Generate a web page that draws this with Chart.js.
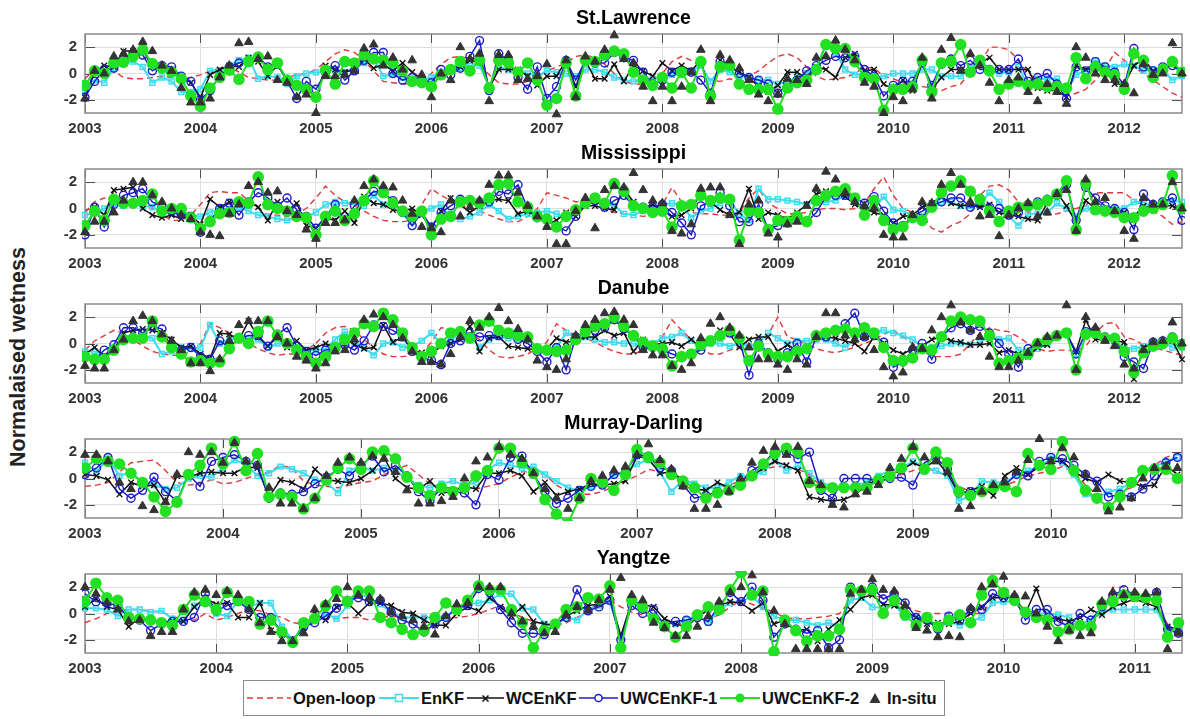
<!DOCTYPE html>
<html>
<head>
<meta charset="utf-8">
<script src="https://cdn.jsdelivr.net/npm/chart.js@4.4.1/dist/chart.umd.min.js"></script>
<style>
  body { margin: 0; background: #fff; font-family: "Liberation Sans", Arial, Helvetica, sans-serif; }
  #wrap { position: relative; width: 1190px; height: 719px; overflow: hidden; background: #fff; }
  .panel { position: absolute; left: 0; width: 1190px; height: 135px; }
  .panel canvas { position: absolute; left: 0; top: 0; }
  .ttl { position: absolute; left: 85px; width: 1097px; top: 6px; line-height: 22px; text-align: center;
         font-weight: bold; font-size: 19.5px; color: #000; }
  #ylab { position: absolute; left: 18px; top: 357px; transform: translate(-50%, -50%) rotate(-90deg);
          font-weight: bold; font-size: 21.5px; color: #222; white-space: nowrap; }
  #legend { position: absolute; left: 243px; top: 680px; width: 700px; height: 34px; border: 1px solid #8a8a8a; background: #fff; }
  #legend svg { position: absolute; top: 10px; }
  #legend span { position: absolute; top: 7px; line-height: 20px; font-weight: bold; font-size: 16.5px; color: #111; white-space: nowrap; }
</style>
</head>
<body>
<div id="wrap">
  <div id="ylab">Normalaised wetness</div>
  <div id="legend">
    <svg style="left:3px" width="44" height="14"><line x1="0" y1="7" x2="44" y2="7" stroke="#e0383a" stroke-width="1.6" stroke-dasharray="6,4"/></svg>
    <span style="left:49px">Open-loop</span>
    <svg style="left:135px" width="40" height="14"><line x1="0" y1="7" x2="40" y2="7" stroke="#3fdcef" stroke-width="2"/><rect x="16.5" y="3.5" width="7" height="7" fill="#fff" stroke="#3fdcef" stroke-width="1.5"/></svg>
    <span style="left:177px">EnKF</span>
    <svg style="left:223px" width="37" height="14"><line x1="0" y1="7" x2="37" y2="7" stroke="#111" stroke-width="1.5"/><path d="M15.5 4.5 L21.5 10.5 M21.5 4.5 L15.5 10.5" stroke="#111" stroke-width="1.5"/></svg>
    <span style="left:262px">WCEnKF</span>
    <svg style="left:335px" width="39" height="14"><line x1="0" y1="7" x2="39" y2="7" stroke="#1c1cc8" stroke-width="1.5"/><circle cx="19.5" cy="7" r="3.6" fill="#fff" stroke="#1c1cc8" stroke-width="1.5"/></svg>
    <span style="left:376px">UWCEnKF-1</span>
    <svg style="left:476px" width="40" height="14"><line x1="0" y1="7" x2="40" y2="7" stroke="#22e022" stroke-width="2"/><circle cx="20" cy="7" r="4.5" fill="#22e022"/></svg>
    <span style="left:518px">UWCEnKF-2</span>
    <svg style="left:624px" width="14" height="14"><path d="M7 2 L12.5 12 L1.5 12 Z" fill="#333"/></svg>
    <span style="left:643px">In-situ</span>
  </div>
</div>
<script>
// first month of every series is January 2003, one value per month
const startYear = 2003;

const yearsLong = [2003, 2004, 2005, 2006, 2007, 2008, 2009, 2010, 2011, 2012];
const yearsMD = [2003, 2004, 2005, 2006, 2007, 2008, 2009, 2010];
const yearsYZ = [2003, 2004, 2005, 2006, 2007, 2008, 2009, 2010, 2011];

// ---- St.Lawrence ----
const slOpen = [-0.4,0.3,0.6,0.2,-0.3,-0.4,-0.4,-0.3,-0.2,-0.3,-0.5,-0.3,
  -0.1,0.2,0.4,0.5,0.1,-0.3,-0.4,-0.5,-0.5,-0.3,-0.1,0.0,
  0.3,0.9,1.5,1.8,1.6,1.0,0.2,-0.6,-0.7,-0.8,-0.8,-0.6,
  0.0,0.7,1.2,1.3,1.1,0.7,-0.1,-0.7,-0.8,-0.8,-0.6,-0.3,
  0.2,0.5,0.8,1.3,1.4,1.2,0.7,0.0,-0.6,-0.8,-0.8,-0.6,
  0.0,0.9,1.3,1.0,0.5,-0.5,-0.6,-0.4,-0.6,-0.2,0.2,0.8,
  1.3,1.5,1.2,0.5,-0.2,-0.5,-0.4,-0.3,0.0,0.5,0.4,-0.2,
  -0.4,-0.7,-0.9,-1.0,-1.1,-1.3,-1.0,-0.8,0.1,0.7,2.0,2.0,
  1.8,1.0,0.0,-0.5,-1.0,-1.3,-1.7,-1.5,-1.2,-0.5,0.3,1.6,
  1.0,0.5,0.0,-0.5,-1.0,-1.5,-1.8];
const slEnkf = [-1.3,-0.5,-0.7,0.4,0.8,0.9,0.5,-0.7,-0.3,-0.6,-1.4,-1.4,
  -1.2,0.2,0.2,0.6,1.0,1.2,-0.4,-0.2,-0.3,-0.8,-0.2,0.0,
  0.1,0.1,0.3,0.1,0.5,0.8,1.2,-0.2,-0.1,-0.3,-0.4,-0.5,
  -0.3,0.1,0.3,0.4,0.8,0.6,-1.0,0.5,0.3,0.2,0.0,-0.2,
  0.2,0.1,0.0,-0.2,0.3,0.3,0.1,-0.3,-0.5,-0.6,-0.5,-0.4,
  -0.3,-0.1,-0.1,0.2,0.6,-0.6,0.3,0.1,-0.2,-0.3,-0.5,-0.5,
  -0.8,-0.6,-0.3,0.0,0.4,2.3,1.6,0.3,-0.1,0.0,-0.3,-0.2,
  0.0,0.0,0.0,0.3,0.3,-0.2,-0.2,-0.2,0.4,1.1,0.3,0.0,
  0.1,0.5,-0.9,-0.4,-0.4,-0.4,-1.3,-0.1,0.2,1.0,0.6,0.5,
  0.7,0.6,0.2,0.3,0.3,-0.5,-0.2];
const slWc = [-1.8,0.1,0.6,0.5,1.7,1.7,1.8,0.5,0.5,0.3,-0.3,-0.7,
  -1.8,-0.1,0.3,0.6,0.5,1.2,0.9,-0.2,0.6,-0.4,-0.8,-1.0,
  -1.9,0.6,0.3,0.1,0.3,1.1,0.4,0.7,0.2,0.8,0.1,-0.4,
  -1.0,0.0,0.4,0.5,1.0,1.3,-1.1,0.3,0.3,0.3,-0.2,-0.9,
  -0.2,-0.2,1.0,-1.0,1.0,-0.4,-0.4,0.7,-0.6,0.6,0.2,-0.2,
  0.8,0.2,0.6,0.2,1.0,-1.7,1.0,0.5,0.1,-0.3,-1.0,-1.4,
  -0.9,0.1,0.1,-0.4,0.5,0.3,-0.3,1.2,1.5,0.2,0.3,-0.8,
  -1.2,-0.5,-1.3,0.8,-1.2,-0.3,0.3,0.3,0.2,0.8,1.2,0.3,
  0.3,0.3,0.3,-1.1,-1.3,-1.3,-1.8,0.6,0.3,0.5,0.3,-0.8,
  -0.8,0.6,1.1,0.2,0.3,0.8,0.0];
const slU1 = [-1.8,-0.6,0.3,0.4,1.2,1.5,1.4,0.2,0.6,0.5,-0.2,-0.6,
  -2.0,-1.3,-0.2,0.5,0.8,1.0,1.3,0.5,0.7,-0.6,-1.9,-0.6,
  -1.2,0.1,0.6,-0.5,0.2,1.0,1.6,1.6,0.0,-0.5,-0.3,-0.5,
  -0.7,0.3,-0.1,0.4,1.3,2.5,-1.3,1.5,1.0,-0.3,-1.2,0.5,
  -1.9,-1.0,1.0,-0.5,1.0,0.8,0.8,1.6,1.2,1.0,0.1,-0.8,
  -0.5,0.1,0.1,0.1,-0.5,-1.5,0.9,0.6,0.0,-0.3,-0.5,-0.8,
  -1.5,-0.8,-0.5,0.2,0.6,1.0,1.3,1.2,1.3,0.3,-0.2,-1.7,
  -0.9,-0.6,-0.6,0.8,-0.9,0.7,1.1,0.6,1.0,0.3,0.3,0.3,
  0.3,1.1,-0.6,-0.3,0.0,-0.8,-1.9,0.5,0.2,0.9,0.5,0.1,
  -0.9,1.9,0.5,0.2,0.5,0.6,0.1];
const slU2 = [-0.9,0.2,0.0,0.8,0.85,1.3,1.8,0.75,0.4,0.1,-0.4,-1.7,
  -2.5,-1.1,-0.3,0.25,-0.45,0.9,1.25,0.3,0.8,-0.5,-0.9,-1.2,
  -1.8,0.25,-0.8,0.9,0.8,1.4,1.1,1.0,0.8,0.2,-0.6,-0.7,
  -1.0,-0.1,0.3,0.9,0.2,1.0,-1.1,1.0,0.8,0.1,0.8,-0.5,
  -2.4,-1.9,0.8,-1.7,1.0,0.9,1.4,1.7,1.5,0.1,-0.5,-0.9,
  -0.3,-1.1,0.1,-1.1,0.9,-1.7,0.5,0.6,-0.8,-1.2,-1.2,-1.2,
  -2.7,-1.1,-0.7,-0.5,0.3,2.2,1.9,1.9,0.9,-0.3,-0.4,-2.8,
  -1.2,-1.2,-1.0,1.0,-1.4,0.8,0.9,2.2,0.1,1.0,0.2,-1.2,
  -0.8,-0.6,-0.9,-0.8,-1.0,-1.0,-1.1,1.2,-0.4,0.5,0.1,-0.1,
  -1.2,1.5,1.0,-0.3,0.3,0.9,0.1];
const slObs = [-1.9,0.2,0.0,1.3,1.5,1.8,2.4,1.7,0.6,0.2,-1.1,-2.2,
  -2.2,-1.9,-0.3,0.6,2.3,2.4,1.1,1.3,-0.5,-0.7,-1.8,-1.6,
  -3.0,-0.2,-0.2,-0.1,0.2,1.9,2.2,0.6,1.2,0.3,1.0,-0.1,
  -1.8,0.0,-0.5,2.0,1.1,1.5,-2.1,1.4,1.4,-0.5,-0.4,-0.2,
  0.7,-3.1,1.0,-1.8,1.3,0.9,1.8,2.9,1.1,0.8,-1.0,-2.1,
  -1.0,-2.1,-1.0,0.1,1.8,-2.1,1.4,1.0,0.4,-0.5,-1.6,-2.1,
  -1.6,-0.4,-0.5,-0.8,1.2,1.3,2.5,1.8,1.0,-0.7,-1.0,-3.0,
  -1.8,-2.1,-1.2,1.2,-1.9,1.8,2.7,0.2,1.5,0.6,-0.7,-2.1,
  -0.5,-0.3,-1.4,-2.1,-0.8,-1.4,-2.3,2.0,1.2,0.0,-0.5,-0.5,
  -0.8,-1.5,0.7,-0.1,0.0,2.3,0.0];

// ---- Mississippi ----
const msOpen = [-0.3,0.5,0.8,0.6,0.6,0.5,0.5,0.0,-0.5,-0.9,-0.9,-0.5,
  0.3,1.2,1.3,1.2,1.2,0.6,0.0,-0.5,-0.5,-0.6,-0.4,0.0,
  0.8,1.7,1.0,0.5,0.2,-0.2,-0.6,-0.9,-1.0,-1.0,-0.9,0.3,
  1.5,1.0,0.6,0.3,0.0,-0.2,-0.5,-0.8,-1.0,-1.0,-0.6,0.0,
  1.2,1.0,0.8,0.5,0.6,0.4,0.0,-0.3,-0.4,-0.5,-0.6,-0.5,
  0.3,1.6,0.5,-0.3,-0.4,-0.4,-0.5,-0.5,-0.3,0.8,1.5,0.4,
  0.0,-0.4,-0.4,-0.3,-0.1,0.0,0.0,-0.1,0.0,0.4,1.5,2.4,
  1.0,0.0,-0.3,-0.5,-1.5,-1.8,-1.3,-1.0,-0.4,1.0,1.7,1.8,
  1.4,0.5,-0.3,-0.6,-0.5,-0.4,-0.2,0.0,0.2,1.2,1.2,1.2,
  1.2,0.6,0.2,-0.2,-0.6,-1.2,-1.0];
const msEnkf = [-0.5,-0.3,0.0,0.3,0.2,0.3,0.2,0.1,-0.2,-0.3,-0.5,-0.5,
  -0.6,-0.3,0.0,-0.1,0.1,-0.2,-0.5,-0.6,-0.8,-0.9,-0.7,-0.6,
  -0.3,0.3,0.5,0.4,0.5,0.2,1.0,0.3,0.3,-0.3,-1.0,-0.2,
  0.0,0.3,-0.7,-0.8,-0.6,-0.3,0.3,-0.2,-0.8,-0.6,-0.4,-0.3,
  -0.2,-0.4,-0.7,-0.3,0.3,0.6,0.4,0.2,-0.4,-0.5,-0.2,0.0,
  0.3,0.4,0.3,-0.7,-0.2,0.0,0.4,0.6,-0.4,-0.9,1.5,0.7,
  0.7,0.6,0.5,0.3,0.5,0.5,0.6,1.0,0.5,-0.2,0.0,0.9,
  -0.1,-0.2,-0.5,-0.6,0.3,0.5,0.5,0.2,0.2,0.3,1.2,0.5,
  -0.6,-1.3,-0.4,-0.4,-0.3,0.4,0.0,-0.6,0.0,0.0,0.0,0.0,
  0.0,0.5,0.5,0.0,0.3,0.6,0.5];
const msWc = [-1.8,0.1,-0.5,1.4,1.5,1.6,0.0,-0.5,-0.7,-0.5,-0.8,-0.5,
  -1.2,0.7,0.1,0.5,0.4,0.5,0.1,-0.9,0.5,-0.2,0.4,-1.3,
  -1.5,-0.7,-0.9,-0.2,-1.1,0.9,0.4,0.3,-0.1,-0.2,0.0,-0.5,
  -1.5,-0.2,0.8,0.3,-0.3,0.2,0.6,0.7,0.6,-0.4,-0.2,-0.6,
  -1.2,-0.9,-0.3,-0.6,0.2,0.2,0.0,-0.1,1.5,0.5,0.0,0.3,
  -0.1,-0.6,-0.5,0.0,1.1,0.5,-0.1,-0.5,-0.3,1.5,-0.8,-0.3,
  -0.5,-0.8,-0.3,0.3,1.1,1.3,1.1,0.9,0.3,0.0,-0.3,-0.5,
  -1.1,-0.6,-0.5,0.1,0.4,0.9,0.4,0.2,0.3,0.1,0.3,-0.3,
  -0.5,-0.6,-0.8,-0.9,0.4,1.2,0.2,-1.1,0.6,0.0,-0.2,-0.2,
  -0.3,-0.6,0.2,0.0,0.2,0.2,-0.2];
const msU1 = [-2.0,0.1,-1.4,0.3,1.0,1.2,1.5,0.5,0.1,-0.2,-0.5,-0.6,
  -1.8,-0.9,0.0,0.4,-0.5,0.5,1.2,0.8,0.2,0.8,-0.1,-0.6,
  -1.5,-0.6,0.3,-0.9,0.2,0.6,1.3,1.2,0.6,-0.3,-1.3,-0.3,
  -1.4,-0.3,0.2,0.7,0.6,0.5,0.5,1.3,1.1,1.8,0.0,-0.7,
  -0.8,-1.4,-1.7,-0.6,0.4,0.6,0.1,0.6,1.0,0.2,0.1,0.1,
  0.3,-0.3,-1.1,-2.0,0.2,0.5,1.2,0.2,-1.0,-1.0,0.3,-1.6,
  -1.3,-1.1,-0.6,-1.0,-0.3,0.9,1.0,1.0,0.8,0.4,0.9,-0.2,
  -1.1,-1.3,-0.6,-0.2,0.2,0.5,0.8,0.8,0.1,0.3,0.1,0.0,
  -0.5,-0.3,0.3,0.5,0.7,1.0,1.8,-0.9,1.6,0.8,0.2,0.0,
  -0.3,-1.6,1.1,0.3,0.5,0.8,-0.9];
const msU2 = [-1.3,-0.2,-0.9,0.7,0.4,0.4,0.6,1.1,-0.2,0.0,0.0,-0.7,
  -1.5,-1.0,-0.4,-0.3,0.5,0.4,2.4,0.3,0.0,-0.2,-0.6,-0.7,
  -2.0,-0.6,-0.2,-0.9,-0.4,0.6,2.1,1.2,0.4,-0.2,-0.6,-0.2,
  -2.0,-0.8,-0.6,0.5,0.6,0.4,0.8,1.8,1.9,0.5,0.1,-0.6,
  -0.8,-1.4,-0.6,-0.1,0.4,0.8,0.4,1.9,1.3,0.2,0.0,-0.3,
  -0.2,-1.4,0.2,0.3,1.0,0.6,0.8,0.7,-2.4,-0.2,-0.3,-1.6,
  -0.9,-1.0,-0.6,-1.0,0.6,1.0,1.3,1.5,0.8,-0.5,0.6,-0.9,
  -1.6,-1.4,-0.7,-0.9,0.1,1.2,1.7,2.1,1.3,0.7,-0.2,-1.0,
  -0.2,0.1,0.2,0.3,0.6,1.1,2.1,-1.6,1.9,-0.1,-0.2,-0.3,
  -0.7,-0.7,-0.2,0.0,0.3,2.5,0.0];
const msObs = [-1.8,-1.0,-1.0,-0.3,0.6,2.0,2.0,1.0,0.5,0.0,-0.5,-0.8,
  -1.8,-2.0,-2.1,-0.4,0.3,1.7,2.0,1.2,1.3,-0.2,-0.5,-1.6,
  -2.3,-1.1,-1.1,-0.9,0.6,1.7,2.2,1.7,1.6,0.6,-0.4,-1.4,
  -1.5,-1.8,0.6,-0.6,0.1,0.6,1.8,2.5,2.5,1.2,0.2,-0.6,
  -1.4,-2.7,-2.7,-0.2,0.8,-1.5,1.4,1.7,1.6,2.7,1.4,0.6,
  0.4,-1.7,-1.9,-1.2,1.5,1.6,1.6,-0.5,-2.7,0.3,0.6,-1.9,
  -2.2,-1.2,-1.0,0.2,1.5,2.8,2.2,1.2,0.5,0.2,0.0,-2.0,
  -2.2,-2.2,-0.5,0.5,0.4,1.8,2.7,1.8,0.5,-0.6,-0.5,-2.1,
  -0.5,0.0,0.4,-0.6,-0.3,1.1,1.4,-1.7,2.2,0.5,0.8,-0.2,
  -1.7,-2.3,0.8,0.3,0.3,2.0,0.0];

// ---- Danube ----
const daOpen = [-0.5,0.2,0.6,1.0,0.8,0.3,-0.2,-0.6,-0.8,-0.9,-0.9,-0.6,
  0.0,1.5,1.2,0.8,0.4,0.0,-0.4,-0.7,-0.9,-0.8,-0.8,-0.5,
  0.0,0.8,1.2,1.3,1.0,0.3,-0.3,-0.8,-1.0,-1.0,-0.9,-0.7,
  0.1,1.2,1.1,0.9,0.8,0.3,-0.5,-1.0,-1.1,-1.0,-0.8,-0.4,
  0.1,1.5,1.0,0.6,0.4,0.1,-0.3,-0.6,-0.8,-0.8,-0.5,-0.2,
  0.5,1.8,1.0,0.3,-0.4,-0.8,-0.8,-0.5,-0.3,-0.2,0.2,0.7,
  2.0,0.5,0.3,0.0,-0.4,-0.6,-0.7,-0.5,-0.3,0.0,0.3,0.7,
  1.0,0.5,0.0,-0.5,-1.0,-1.0,-1.0,-0.8,0.0,0.8,1.2,1.0,
  0.9,0.5,0.0,-0.4,-0.6,-0.5,-0.5,-0.6,-0.2,0.8,1.5,1.6,
  0.5,0.3,-0.1,-0.3,-0.5,-0.7,-0.9];
const daEnkf = [-0.6,-0.6,-1.0,-0.3,0.3,0.5,0.6,0.4,-0.8,-0.6,-0.3,-0.4,
  -0.3,1.4,0.0,0.3,0.5,0.3,0.3,-0.3,0.0,0.0,-0.3,-0.5,
  -0.5,-0.4,0.3,0.9,0.1,-0.3,-0.9,0.0,0.1,-0.3,-0.2,0.2,
  0.8,0.0,0.2,0.8,0.6,-0.3,0.3,0.5,0.4,0.3,0.5,-0.5,
  -0.6,-0.3,0.8,0.5,0.5,0.3,0.1,0.1,0.0,0.0,-0.2,0.0,
  0.4,0.5,0.8,0.2,-0.3,0.0,0.0,-0.2,0.0,-0.2,0.0,0.8,
  0.4,0.0,0.2,0.2,0.3,0.3,0.0,-0.3,0.3,0.8,0.9,1.0,
  0.8,0.6,0.3,-0.2,-0.3,-0.2,0.0,0.0,-0.1,0.1,0.5,0.3,
  0.4,-0.5,-0.6,-0.4,0.0,0.7,0.9,-0.8,0.6,0.6,0.5,0.0,
  -0.3,-0.4,-0.2,0.0,0.1,-0.3,-0.3];
const daWc = [-0.8,-0.3,-1.0,-0.5,0.8,1.0,1.1,1.0,0.8,0.3,-0.3,-0.2,
  -0.8,-1.1,0.8,0.7,0.3,1.7,0.5,-0.2,0.5,-0.3,0.2,-0.5,
  -0.3,0.0,-0.3,0.4,-0.1,-0.4,-0.3,1.4,0.1,0.5,-0.5,-0.7,
  -0.8,-0.2,0.0,0.3,1.3,-0.6,0.4,0.5,-0.2,-0.3,-0.4,-0.5,
  -0.4,0.4,0.1,0.2,0.5,0.5,1.0,0.6,0.8,-0.6,0.3,-0.1,
  0.0,0.1,-0.2,0.3,-0.3,0.1,1.0,0.7,-0.3,0.3,0.5,0.5,
  -0.6,-0.1,-0.5,-0.3,0.5,0.5,0.4,0.2,0.0,-0.6,0.5,0.0,
  -0.5,-0.8,-0.4,-0.2,0.3,0.5,0.2,0.1,-0.1,-0.1,0.0,-0.7,
  -0.5,-0.8,-1.0,-0.3,-0.1,0.5,0.7,-0.6,1.8,0.3,0.3,0.2,
  0.1,-2.7,-0.3,0.0,0.1,0.2,-1.2];
const daU1 = [-1.0,-1.3,-0.5,-0.1,1.2,1.2,0.8,1.3,1.1,-0.3,-0.5,-0.3,
  -1.0,-1.2,0.2,-0.3,0.4,0.6,0.6,-0.2,0.7,1.2,-0.2,-0.6,
  -0.9,-0.5,-0.4,-0.1,-0.5,0.2,1.4,1.3,1.0,0.5,-0.6,-1.1,
  -1.3,-1.6,0.0,0.2,0.8,0.5,0.6,0.6,0.7,0.3,0.0,-0.6,
  -1.4,-0.3,-2.0,0.5,0.8,1.0,1.2,1.8,1.1,0.6,-0.3,-0.3,
  -0.5,-0.8,-1.0,-0.8,-0.5,0.2,0.6,0.8,0.3,-2.4,0.0,-0.7,
  -1.2,-0.7,0.0,-1.4,0.5,0.5,1.0,1.5,2.3,0.5,0.6,0.1,
  -1.8,-1.4,-0.5,0.0,-1.2,0.5,1.2,1.5,1.0,1.3,0.8,0.0,
  -0.8,-1.8,-0.4,0.0,0.3,0.6,0.8,-0.8,0.9,1.0,0.5,0.4,
  -1.0,-1.4,-1.9,0.1,0.2,0.5,0.0];
const daU2 = [-1.0,-1.2,-1.2,-0.5,0.3,0.4,0.4,1.7,0.5,-0.3,-0.8,-1.4,
  -1.3,-1.5,-1.4,-0.4,0.4,0.0,0.9,1.7,0.6,0.0,-0.5,-1.0,
  -1.5,-1.0,-0.3,0.3,0.8,1.5,1.3,2.3,1.8,0.8,-0.3,-1.0,
  -0.6,0.0,0.8,0.9,0.4,1.4,1.7,1.0,0.8,0.6,0.5,-0.4,
  -0.5,-0.6,-0.5,0.3,0.9,1.3,1.5,2.0,1.3,0.6,0.1,-0.2,
  -0.4,-1.7,-1.0,-0.8,-0.1,0.2,0.6,1.0,0.4,-1.3,-0.2,-0.8,
  -1.0,-1.0,-0.6,-0.4,0.6,0.8,1.0,1.1,0.8,1.2,0.8,-0.3,
  -1.3,-1.3,-1.1,-0.4,-0.5,0.5,1.7,2.0,1.8,1.7,0.6,-1.5,
  -1.3,-1.1,-0.8,0.0,0.3,0.6,0.8,-2.0,0.7,0.8,0.4,0.4,
  -0.6,-2.2,-0.7,-0.2,0.0,0.4,-0.1];
const daObs = [-1.7,-1.9,-1.9,-0.5,0.3,1.7,2.1,1.7,0.7,0.2,-0.5,-1.5,
  -1.5,-2.1,-1.2,0.2,1.4,1.7,1.7,1.7,0.5,0.0,-1.0,-1.3,
  -1.9,-1.5,-0.6,-0.5,0.3,1.8,2.2,2.0,1.4,0.4,-0.6,-1.4,
  -1.4,-1.6,-0.8,0.5,1.7,1.2,2.0,2.7,1.7,1.1,0.3,-1.3,
  -1.8,-2.0,-1.2,0.6,1.4,1.8,2.3,2.4,1.8,1.4,-0.5,-0.9,
  -0.9,-1.7,-2.0,-1.5,0.4,1.5,2.0,1.2,0.6,-0.3,-1.2,-1.2,
  -1.6,-2.0,-1.2,-1.6,0.5,2.3,2.3,0.6,0.3,0.5,-0.5,-1.8,
  -2.5,-2.2,-0.3,-0.4,1.0,2.0,2.9,1.6,1.0,0.5,-1.0,-1.8,
  -1.8,-1.3,-0.7,0.0,0.5,0.6,2.9,-2.0,2.0,1.2,0.2,-0.2,
  -1.6,-1.9,-0.5,0.1,0.2,1.6,0.0];

// ---- Murray-Darling ----
const mdOpen = [-0.6,-0.5,-0.3,0.5,1.2,1.3,1.4,0.6,-0.3,-0.5,-0.4,-0.1,
  -0.4,-0.3,0.0,0.3,0.5,1.0,0.8,-0.2,-0.5,-0.6,-0.7,-0.5,
  -0.3,-0.2,0.3,0.7,1.0,0.3,-0.4,-0.7,-0.7,-0.8,-0.8,-0.6,
  -0.4,0.1,0.5,0.5,0.3,-0.5,-1.0,-1.2,-1.2,-1.0,-0.6,-0.2,
  0.2,0.7,0.5,0.2,-0.4,-1.0,-0.9,-0.7,-0.5,-0.2,0.2,0.7,
  0.9,0.9,0.7,0.3,-0.6,-0.9,-0.9,-0.7,-0.4,-0.2,0.0,0.3,
  0.6,0.9,0.5,0.2,-0.6,-1.0,-1.0,-0.8,-0.5,-0.2,0.2,0.4,
  0.6,0.9,0.5,-0.5,-1.2,-1.2,-1.0,-0.7,0.0,1.0,1.6,1.9];
const mdEnkf = [1.2,0.5,1.5,0.2,0.5,-0.3,-0.5,-0.8,-0.7,0.0,0.2,0.1,
  0.8,1.4,1.1,0.2,0.4,0.9,0.7,0.4,-0.1,-0.3,-1.1,0.6,
  0.9,0.6,0.8,0.6,0.0,-0.5,-0.7,-0.4,-0.2,-0.5,-0.3,0.7,
  1.2,1.0,0.8,0.9,0.3,-0.2,-0.7,-0.9,-0.6,-0.4,0.2,0.5,
  1.1,1.4,0.5,-1.0,-0.1,-0.4,-0.7,-0.7,-0.3,0.2,0.2,0.5,
  1.4,0.6,1.0,0.4,-0.3,-0.6,-0.8,-0.5,-0.3,0.2,0.6,0.8,
  1.3,0.9,0.6,0.2,-1.7,-1.3,-0.2,-0.3,-0.3,0.3,0.6,0.9,
  1.5,1.2,0.3,-1.2,-1.5,-1.0,-0.8,-0.3,0.6,0.9,1.3,1.6];
const mdWc = [0.3,0.2,-0.1,-1.2,-0.3,-0.6,-0.5,-1.8,0.2,0.1,0.4,0.5,
  0.4,0.4,0.9,0.8,-1.4,-0.1,-0.3,-0.8,0.7,-0.1,-0.2,-0.3,
  0.0,0.6,1.6,0.0,-0.7,-0.8,-0.2,-1.1,-1.0,-0.6,-0.8,0.4,
  0.4,0.6,0.2,-1.0,-0.3,-1.3,-1.0,-0.8,-0.4,-0.5,-0.4,-0.2,
  1.7,1.5,0.4,0.5,-0.1,-0.8,-0.9,-0.3,-0.7,-0.5,0.2,0.8,
  1.3,1.0,0.6,-1.4,-1.6,-1.7,-1.6,-1.2,-0.5,0.0,0.3,0.6,
  1.2,0.8,1.4,0.4,-1.2,-0.9,-0.6,-1.3,0.2,0.8,0.3,0.9,
  1.3,1.3,0.5,0.0,-0.3,0.3,-0.2,-0.3,-0.6,-0.5,1.0,0.3];
const mdU1 = [0.3,0.8,1.6,-0.8,-1.5,-0.9,0.1,-1.0,-1.7,0.3,-0.6,1.3,
  1.6,1.8,1.3,1.0,-1.5,-1.1,-1.2,-1.0,-0.4,0.1,0.7,0.2,
  1.0,1.7,0.5,1.0,0.2,-1.0,-1.7,-0.7,-1.0,-1.1,-2.0,0.3,
  -0.1,1.6,1.7,0.3,-1.0,-1.9,-1.5,-0.9,-0.6,-0.5,0.3,0.5,
  1.8,1.7,0.8,0.6,-0.5,-1.5,-1.3,-1.0,-0.9,-0.3,0.6,1.1,
  2.1,2.0,1.5,2.0,-0.9,-1.5,0.0,0.0,0.0,-0.2,0.0,0.1,
  -0.5,1.2,1.6,0.7,-1.1,-1.0,-1.0,-0.7,-0.5,0.3,0.2,1.3,
  1.6,1.5,1.0,0.3,-0.2,-1.4,-1.2,-1.4,-0.8,0.2,1.2,1.6];
const mdU2 = [0.8,1.5,1.3,1.1,0.4,-0.3,-1.4,-2.5,-1.8,0.3,1.0,2.3,
  1.1,2.8,0.6,1.9,-1.4,-1.2,-1.4,-2.3,-1.5,-0.1,0.8,1.5,
  0.7,2.0,2.1,1.5,0.1,-0.7,-1.3,-0.7,-1.0,-0.7,0.2,0.6,
  2.3,2.3,1.2,0.4,-1.6,-2.7,-3.4,-1.5,0.0,-0.3,-0.9,0.3,
  2.2,1.6,1.2,0.3,-0.2,-0.7,-1.5,-1.1,-0.9,-0.5,0.2,1.1,
  1.9,2.3,2.0,-0.3,-0.7,-0.7,-0.7,-0.7,-0.7,-0.1,0.2,0.8,
  2.3,0.7,2.0,1.2,-1.0,-1.3,-1.0,-0.7,-0.6,-1.0,1.9,1.0,
  0.7,2.8,0.6,-0.9,-1.5,-2.2,-1.4,-0.3,0.6,0.7,0.7,0.0];
const mdObs = [1.8,1.8,1.3,-0.3,-0.8,-2.1,-2.4,-1.8,0.3,2.0,1.8,2.0,
  1.2,2.7,1.3,1.0,-0.7,-1.9,-1.9,-2.3,-1.5,0.2,1.2,1.6,
  1.2,1.7,1.5,0.5,-0.9,-1.9,-1.9,-1.7,-1.4,0.0,1.3,1.6,
  2.4,1.8,1.5,0.4,-0.8,-1.5,-2.3,-1.5,-0.2,0.2,0.6,0.9,
  1.8,2.6,1.4,0.7,-0.6,-2.3,-2.3,-2.0,-1.0,0.0,1.2,2.1,
  2.4,1.8,2.4,-0.2,-0.5,-2.0,-2.2,-1.2,-1.0,-0.5,0.8,1.5,
  2.4,1.6,1.3,0.5,-2.3,-2.1,-1.0,-0.5,-0.3,0.5,1.4,3.0,
  1.3,2.3,1.6,0.3,-0.8,-2.5,-2.2,-1.5,0.0,0.8,0.9,0.8];

// ---- Yangtze ----
const yzOpen = [-0.7,-0.4,0.0,0.2,0.3,0.3,0.2,0.1,-0.2,-0.5,-0.5,0.0,
  -0.5,-0.3,0.0,0.3,0.2,-0.1,-0.3,-0.7,-0.8,-0.6,-0.4,-0.4,
  -0.3,-0.3,-0.5,-0.3,-0.2,-0.3,-0.3,-0.2,-0.3,-0.3,-0.3,-0.2,
  0.0,0.3,0.6,0.1,-0.3,-0.6,-0.8,-0.9,-0.7,-0.3,0.2,0.8,
  1.0,0.5,0.1,-0.1,-0.3,-0.6,-0.8,-0.7,-0.6,-0.4,-0.1,0.5,
  1.0,0.7,0.4,0.1,-0.3,-0.4,-0.4,-0.3,-0.2,0.0,1.0,1.5,
  1.4,1.2,0.9,0.6,0.2,0.0,0.0,0.0,0.0,0.0,0.0,1.0,
  1.5,1.0,0.3,0.0,-0.3,-0.7,-0.8,-0.8,-0.4,0.0,2.0,2.0,
  1.3,1.0,0.6,-0.8,-1.7];
const yzEnkf = [0.4,0.4,0.3,-0.2,0.3,0.3,0.1,0.2,-0.4,-0.5,0.6,1.0,
  0.0,-0.2,1.0,0.5,0.8,0.8,-1.0,-2.0,-1.0,-0.5,0.0,-0.4,
  0.6,1.5,1.2,0.7,0.1,-0.3,-0.3,-0.3,-0.3,-0.3,0.5,0.7,
  0.8,1.0,1.5,1.5,0.4,0.3,-0.8,-0.9,-0.3,-0.5,0.3,0.6,
  0.9,-1.8,0.9,0.2,-0.2,-0.7,-0.8,-0.5,-0.1,-0.7,0.3,0.8,
  0.9,1.3,0.5,-0.2,-0.5,-0.5,-0.7,-0.9,-0.7,-1.0,1.0,1.2,
  0.5,0.4,0.7,-0.3,-0.2,-0.4,-1.2,-0.6,-0.9,-0.6,-0.3,0.8,
  0.9,0.9,0.0,0.0,0.0,-0.1,-0.3,-0.9,-0.4,0.1,0.3,0.3,
  0.3,0.3,0.3,-1.4,-1.0];
const yzWc = [0.5,1.1,0.5,0.3,-1.0,-0.3,-0.5,-0.6,-0.6,-0.6,0.5,1.2,
  0.7,0.8,-0.3,-0.3,0.8,-1.3,-1.6,-2.0,-1.1,0.0,-0.5,0.5,
  0.8,0.0,0.8,0.8,0.6,0.1,0.0,-0.5,-0.9,-0.9,0.0,0.5,
  0.2,1.2,0.5,-0.2,0.5,-0.6,-0.8,-0.9,-0.2,0.2,0.6,0.7,
  1.3,-1.7,0.9,0.7,0.5,-0.4,-0.8,-1.0,-0.3,0.3,0.6,0.9,
  0.8,0.2,0.8,-0.8,-0.5,-1.3,-1.2,-2.1,-1.2,-0.5,0.3,1.2,
  1.4,0.7,0.6,0.2,-0.3,-0.8,-0.7,-0.8,-0.6,0.0,0.5,1.2,
  1.2,1.3,0.0,1.9,-0.3,-0.4,-0.6,-0.3,0.3,-0.1,0.5,0.8,
  1.1,0.8,0.5,-1.0,-1.2];
const yzU1 = [1.5,0.9,0.8,0.6,-0.3,-0.5,-1.3,-0.8,-0.6,-0.6,-0.3,1.5,
  0.2,0.6,0.9,0.3,-0.3,-0.3,-1.4,-2.1,-1.0,-0.7,-0.2,0.4,
  1.0,1.2,0.9,1.0,0.1,-0.5,-0.8,-1.4,-0.8,-0.3,0.4,0.6,
  1.9,1.6,0.3,-0.7,-1.5,-1.5,-1.6,-0.8,-0.3,1.8,0.2,0.5,
  1.0,-2.0,0.6,0.0,0.3,-0.9,-0.6,-0.5,-0.3,-0.6,0.6,1.6,
  0.9,2.0,1.0,-1.8,-0.8,-1.2,-1.5,-1.3,-2.6,-2.0,2.0,1.6,
  2.0,1.1,1.5,0.8,-0.3,-0.5,-1.2,-0.2,-0.5,0.3,0.3,1.5,
  1.2,1.2,-0.5,0.3,0.3,-0.6,-1.0,0.0,-0.5,0.5,1.4,1.8,
  1.4,1.2,1.6,-1.2,-1.5];
const yzU2 = [0.9,2.3,1.2,1.0,-0.3,-0.4,-0.5,-0.7,-0.9,0.3,1.4,0.9,
  0.3,1.6,1.0,0.9,-0.8,-0.5,-1.4,-2.2,-0.7,-0.4,0.6,1.7,
  0.9,1.7,1.7,-0.3,-0.7,-1.2,-1.6,-1.3,-0.3,0.8,0.3,1.0,
  2.1,1.8,1.8,0.3,-0.7,-2.6,-1.3,-0.8,0.3,0.5,1.2,1.1,
  2.1,-2.6,1.0,0.5,-0.4,-1.0,-1.8,-1.0,-0.1,0.5,0.3,1.8,
  3.1,1.4,1.7,-2.9,-0.5,-1.3,-2.1,-1.7,-1.7,-1.2,1.8,1.7,
  1.8,0.0,1.0,-0.1,-0.9,-0.3,-1.0,-0.5,-0.1,-0.7,1.4,2.5,
  1.6,1.0,0.1,-0.3,-0.5,-1.4,-1.2,-0.9,-1.0,0.7,0.9,1.4,
  1.3,1.2,1.0,-1.8,-0.7];
const yzObs = [2.0,1.5,0.8,0.3,-0.6,-0.5,-1.7,-1.4,-1.4,0.3,1.6,1.8,
  1.4,1.7,1.4,0.3,-0.7,-1.4,-2.1,-2.1,-1.5,0.3,0.7,1.1,
  2.0,1.4,1.2,1.1,0.1,-0.2,-0.5,-1.0,-1.6,-0.2,0.7,0.8,
  2.0,2.0,2.0,0.0,-0.6,-1.0,-1.5,-1.4,-0.1,0.5,0.2,1.0,
  1.8,2.7,1.4,1.0,-0.7,-1.1,-1.7,-1.7,-1.0,-0.2,0.9,1.6,
  2.0,2.9,1.6,0.2,-0.8,-2.7,-2.7,-2.7,-2.7,-2.7,1.5,1.8,
  2.6,1.8,1.7,0.6,-1.1,-1.3,-1.8,-1.7,-1.8,0.4,2.0,2.2,
  2.8,1.4,1.3,0.0,-1.0,-2.1,-1.3,-1.7,-1.5,0.9,1.6,1.4,
  1.6,1.5,1.6,-2.7,-1.5];

const panels = [
  { title: 'St.Lawrence', years: yearsLong, xMax: 2012.5, open: slOpen, enkf: slEnkf, wc: slWc, u1: slU1, u2: slU2, obs: slObs },
  { title: 'Mississippi', years: yearsLong, xMax: 2012.5, open: msOpen, enkf: msEnkf, wc: msWc, u1: msU1, u2: msU2, obs: msObs },
  { title: 'Danube', years: yearsLong, xMax: 2012.5, open: daOpen, enkf: daEnkf, wc: daWc, u1: daU1, u2: daU2, obs: daObs },
  { title: 'Murray-Darling', years: yearsMD, xMax: 2010.95, open: mdOpen, enkf: mdEnkf, wc: mdWc, u1: mdU1, u2: mdU2, obs: mdObs },
  { title: 'Yangtze', years: yearsYZ, xMax: 2011.36, open: yzOpen, enkf: yzEnkf, wc: yzWc, u1: yzU1, u2: yzU2, obs: yzObs }
];

const family = '"Liberation Sans", Arial, Helvetica, sans-serif';
Chart.defaults.font.family = family;

function monthly(values) {
  return values.map((v, i) => ({ x: startYear + i / 12, y: v }));
}

// MATLAB-like box with inward ticks
const boxPlugin = {
  id: 'box',
  beforeDatasetsDraw(chart) {
    const { ctx, chartArea: a } = chart;
    const xs = chart.scales.x, ys = chart.scales.y;
    ctx.save();
    ctx.strokeStyle = '#505050';
    ctx.lineWidth = 1;
    ctx.beginPath();
    ys.ticks.forEach(t => {
      const y = Math.round(ys.getPixelForValue(t.value)) + 0.5;
      ctx.moveTo(a.left, y); ctx.lineTo(a.left + 10, y);
      ctx.moveTo(a.right - 10, y); ctx.lineTo(a.right, y);
    });
    xs.ticks.forEach(t => {
      const x = Math.round(xs.getPixelForValue(t.value)) + 0.5;
      ctx.moveTo(x, a.bottom); ctx.lineTo(x, a.bottom - 9);
      ctx.moveTo(x, a.top); ctx.lineTo(x, a.top + 9);
    });
    ctx.stroke();
    ctx.strokeStyle = '#8a8a8a';
    ctx.lineWidth = 1.5;
    ctx.strokeRect(a.left, a.top, a.right - a.left, a.bottom - a.top);
    ctx.restore();
  }
};

const wrap = document.getElementById('wrap');

panels.forEach((p, idx) => {
  const div = document.createElement('div');
  div.className = 'panel';
  div.style.top = (idx * 135) + 'px';
  const cv = document.createElement('canvas');
  cv.width = 1190; cv.height = 135;
  div.appendChild(cv);
  const t = document.createElement('div');
  t.className = 'ttl';
  t.textContent = p.title;
  div.appendChild(t);
  wrap.appendChild(div);

  new Chart(cv.getContext('2d'), {
    type: 'line',
    data: {
      datasets: [
        { label: 'In-situ', data: monthly(p.obs), showLine: false, pointStyle: 'triangle',
          pointRadius: 5, backgroundColor: '#333', borderColor: '#333', borderWidth: 1, clip: 8 },
        { label: 'UWCEnKF-2', data: monthly(p.u2), borderColor: '#22e022', backgroundColor: '#22e022',
          borderWidth: 2, pointRadius: 4.8, pointStyle: 'circle', clip: 3 },
        { label: 'UWCEnKF-1', data: monthly(p.u1), borderColor: '#1c1cc8', backgroundColor: 'rgba(255,255,255,0)',
          borderWidth: 1.5, pointRadius: 4, pointBorderWidth: 1.4, pointStyle: 'circle', clip: 3 },
        { label: 'WCEnKF', data: monthly(p.wc), borderColor: '#111', backgroundColor: '#111',
          borderWidth: 1.5, pointRadius: 4, pointBorderWidth: 1.4, pointStyle: 'crossRot', clip: 3 },
        { label: 'EnKF', data: monthly(p.enkf), borderColor: '#3fdcef', backgroundColor: 'rgba(255,255,255,0)',
          borderWidth: 2, pointRadius: 3.5, pointBorderWidth: 1.5, pointStyle: 'rect', clip: 3 },
        { label: 'Open-loop', data: monthly(p.open), borderColor: '#e0383a', borderDash: [6, 4],
          borderWidth: 1.4, pointRadius: 0, clip: 2 }
      ]
    },
    options: {
      responsive: false,
      animation: false,
      events: [],
      layout: { padding: { top: 34, right: 8, bottom: 0, left: 0 } },
      plugins: { legend: { display: false }, tooltip: { enabled: false } },
      elements: { line: { tension: 0 } },
      scales: {
        x: {
          type: 'linear', min: startYear, max: p.xMax,
          afterBuildTicks: s => { s.ticks = p.years.map(v => ({ value: v })); },
          afterFit: s => { s.height = 22; },
          grid: { color: '#dedede', drawTicks: false, lineWidth: 1 },
          border: { display: false },
          ticks: { padding: 7, color: '#333', font: { size: 15, weight: 'bold' }, callback: v => String(v), maxRotation: 0 }
        },
        y: {
          min: -3, max: 3,
          afterBuildTicks: s => { s.ticks = [{ value: -2 }, { value: 0 }, { value: 2 }]; },
          afterFit: s => { s.width = 85; },
          grid: { color: '#dedede', drawTicks: false, lineWidth: 1 },
          border: { display: false },
          ticks: { padding: 8, color: '#333', font: { size: 15, weight: 'bold' } }
        }
      }
    },
    plugins: [boxPlugin]
  });
});
</script>
</body>
</html>
